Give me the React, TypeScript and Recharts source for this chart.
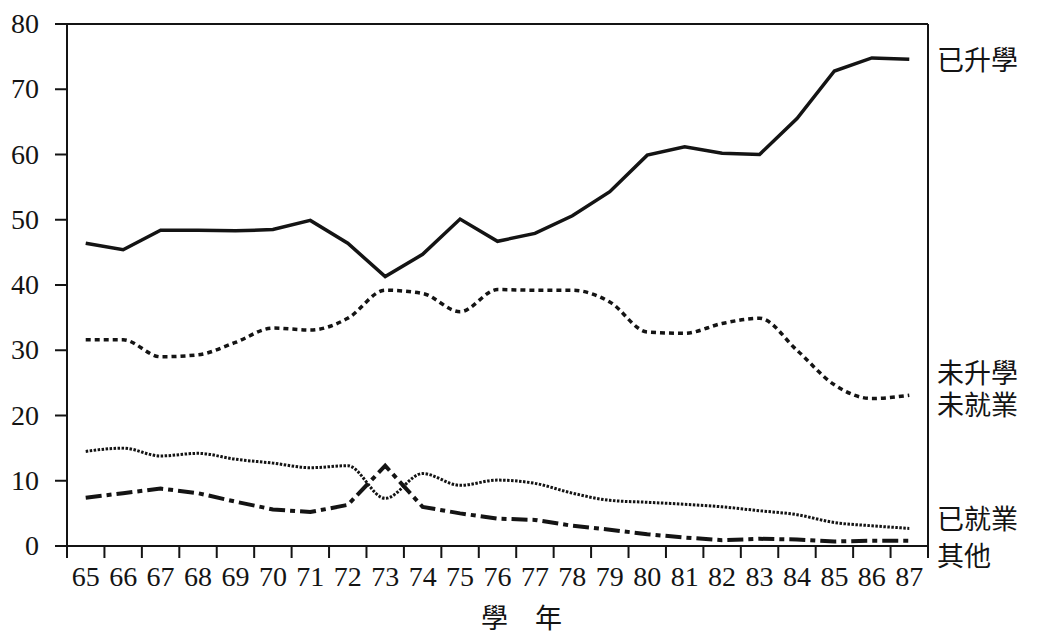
import React from 'react';
import { LineChart, Line, XAxis, YAxis, ReferenceLine } from 'recharts';

// 學年 65–87
const years = [65, 66, 67, 68, 69, 70, 71, 72, 73, 74, 75, 76, 77, 78, 79, 80, 81, 82, 83, 84, 85, 86, 87];

// percentages
const enrolled = [46.4, 45.4, 48.4, 48.4, 48.3, 48.5, 49.9, 46.4, 41.3, 44.7, 50.1, 46.7, 47.9, 50.6, 54.3, 59.9, 61.2, 60.2, 60.0, 65.5, 72.8, 74.8, 74.6];
const idle = [31.6, 31.6, 29.0, 29.3, 31.2, 33.4, 33.1, 34.9, 39.2, 38.7, 35.9, 39.3, 39.2, 39.2, 37.4, 32.8, 32.6, 34.1, 34.9, 30.0, 24.7, 22.6, 23.1];
const employed = [14.5, 15.0, 13.8, 14.2, 13.3, 12.7, 12.0, 12.3, 7.3, 11.1, 9.3, 10.1, 9.6, 8.1, 7.0, 6.7, 6.4, 6.0, 5.4, 4.8, 3.6, 3.1, 2.7];
const other = [7.4, 8.1, 8.8, 8.1, 6.8, 5.6, 5.2, 6.3, 12.3, 6.0, 5.0, 4.2, 4.0, 3.1, 2.5, 1.8, 1.3, 0.9, 1.1, 1.0, 0.7, 0.8, 0.8];

const yTicks = [0, 10, 20, 30, 40, 50, 60, 70, 80];

const data = years.map((y, i) => ({
  year: y,
  enrolled: enrolled[i],
  idle: idle[i],
  employed: employed[i],
  other: other[i],
}));

const W = 1045;
const H = 638;
const margin = { top: 24, right: 117, bottom: 52, left: 7 };
const Y_AXIS_W = 60;
const PLOT_LEFT = margin.left + Y_AXIS_W;
const PLOT_RIGHT = W - margin.right;
const PLOT_BOTTOM = 546;
const HALF = (PLOT_RIGHT - PLOT_LEFT) / years.length / 2;
const INK = '#141414';
const NUM_FONT = 'Liberation Serif';
const CJK_FONT = "'Noto Sans CJK TC', 'Noto Sans CJK SC', sans-serif";

// label at band centre, tick marks on band edges
const XTick = (props: any) => {
  const { x, payload } = props;
  const last = payload.value === years[years.length - 1];
  return (
    <g>
      <line x1={x - HALF} x2={x - HALF} y1={PLOT_BOTTOM} y2={PLOT_BOTTOM + 12} stroke={INK} strokeWidth={2} />
      {last && (
        <line x1={x + HALF} x2={x + HALF} y1={PLOT_BOTTOM} y2={PLOT_BOTTOM + 12} stroke={INK} strokeWidth={2} />
      )}
      <text x={x} y={586} textAnchor="middle" fontFamily={NUM_FONT} fontSize={28} fill={INK}>
        {payload.value}
      </text>
    </g>
  );
};

const YTick = (props: any) => {
  const { x, y, payload } = props;
  return (
    <text x={x} y={y + 9} textAnchor="end" fontFamily={NUM_FONT} fontSize={28} fill={INK}>
      {payload.value}
    </text>
  );
};

const label = (top: number, left: number, size: number, lh: number): React.CSSProperties => ({
  position: 'absolute',
  top,
  left,
  fontFamily: CJK_FONT,
  fontSize: size,
  lineHeight: `${lh}px`,
  color: INK,
  whiteSpace: 'pre',
});

export default function App() {
  return (
    <div style={{ position: 'absolute', left: 0, top: 0, width: W, height: H, background: '#fff', overflow: 'hidden' }}>
      <LineChart width={W} height={H} data={data} margin={margin}>
        <XAxis
          dataKey="year"
          type="number"
          domain={[64.5, 87.5]}
          ticks={years}
          interval={0}
          height={40}
          tickLine={false}
          axisLine={{ stroke: INK, strokeWidth: 2 }}
          tick={<XTick />}
        />
        <YAxis
          type="number"
          domain={[0, 80]}
          ticks={yTicks}
          width={Y_AXIS_W}
          tickSize={12}
          tickMargin={16}
          axisLine={{ stroke: INK, strokeWidth: 2 }}
          tickLine={{ stroke: INK, strokeWidth: 2 }}
          tick={<YTick />}
        />
        <ReferenceLine y={80} stroke={INK} strokeWidth={2} />
        <ReferenceLine x={87.5} stroke={INK} strokeWidth={2} />
        <Line dataKey="enrolled" type="linear" stroke={INK} strokeWidth={3.5} dot={false} isAnimationActive={false} />
        <Line dataKey="idle" type="monotone" stroke={INK} strokeWidth={3.5} strokeDasharray="5 4" dot={false} isAnimationActive={false} />
        <Line dataKey="employed" type="monotone" stroke={INK} strokeWidth={3} strokeDasharray="2.5 1.5" dot={false} isAnimationActive={false} />
        <Line dataKey="other" type="linear" stroke={INK} strokeWidth={4} strokeDasharray="16 5 5 5" dot={false} isAnimationActive={false} />
      </LineChart>
      <div style={label(45, 937, 27, 28)}>已升學</div>
      <div style={label(356, 937, 27, 32)}>{'未升學\n未就業'}</div>
      <div style={label(504, 937, 27, 28)}>已就業</div>
      <div style={label(541, 937, 27, 28)}>其他</div>
      <div style={label(603, 481, 27, 27)}>學　年</div>
    </div>
  );
}
